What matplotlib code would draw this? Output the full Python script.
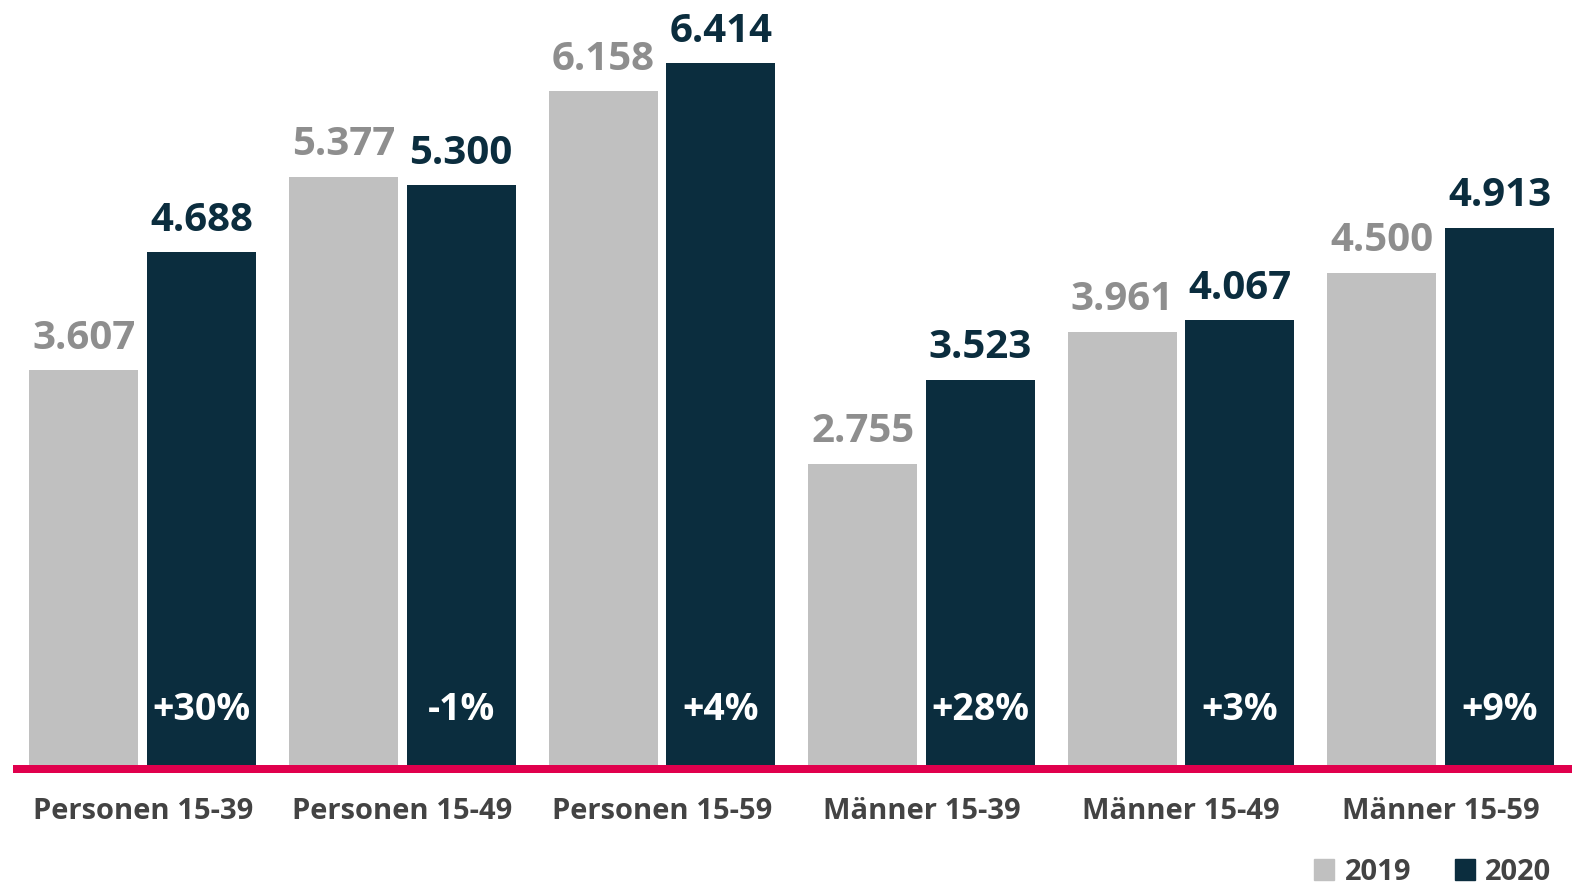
import matplotlib
matplotlib.use("Agg")
import matplotlib.pyplot as plt
from matplotlib.patches import Rectangle, Patch
import numpy as np

categories = ["Personen 15-39", "Personen 15-49", "Personen 15-59",
              "Männer 15-39", "Männer 15-49", "Männer 15-59"]
values_2019 = [3.607, 5.377, 6.158, 2.755, 3.961, 4.500]
values_2020 = [4.688, 5.300, 6.414, 3.523, 4.067, 4.913]
changes = ["+30%", "-1%", "+4%", "+28%", "+3%", "+9%"]
series_names = ["2019", "2020"]

GRAY = "#c0c0c0"
DARK = "#0b2d3e"
RED = "#e0004d"
GRAY_TXT = "#8e8e8e"
TICK_TXT = "#434343"

plt.rcParams['font.family'] = ['Open Sans', 'DejaVu Sans']
plt.rcParams['font.weight'] = 'bold'

fig = plt.figure(figsize=(15.72, 8.84), dpi=100)
ax = fig.add_axes([0, 0.1346, 1, 0.8654])

x = np.arange(len(categories))
w = 0.42
off = 0.2267
ax.bar(x - off, values_2019, w, color=GRAY, zorder=2)
ax.bar(x + off, values_2020, w, color=DARK, zorder=2)

ax.set_xlim(-0.5497, 5.5058)
ax.set_ylim(0, 6.993)

def fmt(v):
    return f"{v:.3f}"

for xi, v in zip(x - off, values_2019):
    ax.annotate(fmt(v), (xi, v), xytext=(0, 15.5), textcoords="offset points",
                ha="center", va="baseline", fontsize=29, color=GRAY_TXT,
                fontweight="bold")
for xi, v in zip(x + off, values_2020):
    ax.annotate(fmt(v), (xi, v), xytext=(0, 15.5), textcoords="offset points",
                ha="center", va="baseline", fontsize=29, color=DARK,
                fontweight="bold")
for xi, c in zip(x + off, changes):
    ax.annotate(c, (xi, 0), xytext=(0, 32.4), textcoords="offset points",
                ha="center", va="baseline", fontsize=27, color="white",
                fontweight="bold")

# red baseline
px_per_unit = 0.8654 * 884 / 6.993
ax.add_patch(Rectangle((-0.5015, -8 / px_per_unit), 6.1, 8 / px_per_unit,
                       color=RED, clip_on=False, zorder=3, lw=0))

ax.set_xticks(x)
ax.set_xticklabels(categories, fontsize=21, color=TICK_TXT, fontweight="bold")
ax.tick_params(axis="x", length=0, pad=23)
ax.set_yticks([])
for s in ax.spines.values():
    s.set_visible(False)

handles = [Patch(color=GRAY, label=series_names[0]),
           Patch(color=DARK, label=series_names[1])]
leg = fig.legend(handles=handles, loc="lower right", bbox_to_anchor=(1.0, -0.026),
                 ncol=2, frameon=False, fontsize=21, handlelength=0.7,
                 handleheight=0.7, handletextpad=0.35, columnspacing=1.5,
                 labelcolor=TICK_TXT, borderaxespad=0.3)
for t in leg.get_texts():
    t.set_fontweight("bold")

fig.savefig("out.png", dpi=100, facecolor="white")
